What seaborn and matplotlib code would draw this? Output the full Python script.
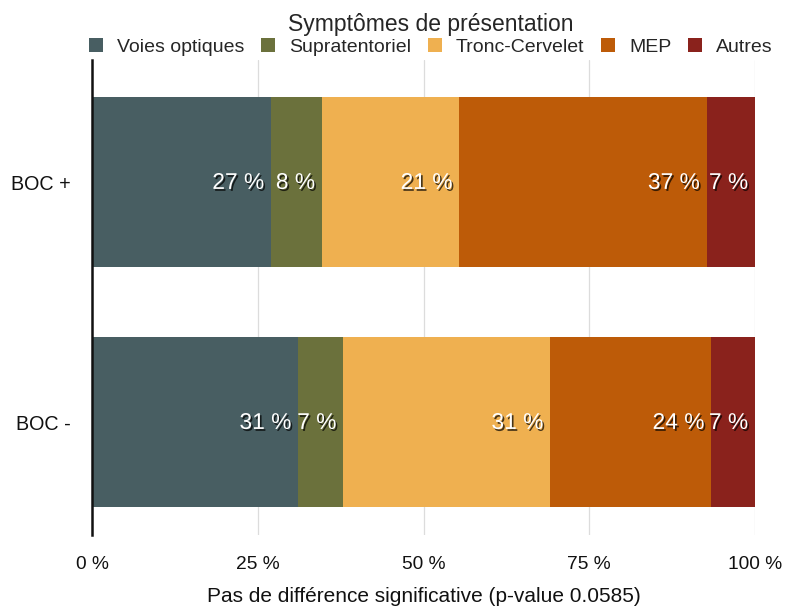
import matplotlib
matplotlib.use("Agg")
import matplotlib.pyplot as plt
import matplotlib.patheffects as pe
from matplotlib.patches import Patch
import numpy as np
import pandas as pd
import seaborn as sns

# Groups and presenting-symptom categories (percent of patients)
groups = ["BOC +", "BOC -"]
symptoms = ["Voies optiques", "Supratentoriel", "Tronc-Cervelet", "MEP", "Autres"]
boc_pos = [27.0, 7.7, 20.7, 37.3, 7.3]
boc_neg = [31.1, 6.8, 31.2, 24.3, 6.6]
colors = ["#485e62", "#6b713c", "#efb050", "#bd5b08", "#8a221c"]
x_ticks = [0, 25, 50, 75, 100]
x_ticklabels = ["0 %", "25 %", "50 %", "75 %", "100 %"]
legend_title = "Symptômes de présentation"
x_label = "Pas de différence significative (p-value 0.0585)"

sns.set_theme(style="white")
plt.rcParams["font.family"] = ["Liberation Sans", "DejaVu Sans"]

values = np.array([boc_pos, boc_neg])
cum = values.cumsum(axis=1)

rows = []
for gi, g in enumerate(groups):
    for si, s in enumerate(symptoms):
        rows.append({"groupe": g, "symptome": s, "valeur": values[gi, si],
                     "cumul": cum[gi, si]})
df = pd.DataFrame(rows)

fig = plt.figure(figsize=(7.85, 6.08), dpi=100)
ax = fig.add_axes([92 / 785, 1 - 535 / 608, 663 / 785, 475 / 608])

# Stacked bars: draw cumulative totals from the widest to the narrowest
for s, c in reversed(list(zip(symptoms, colors))):
    sub = df[df["symptome"] == s]
    sns.barplot(data=sub, x="cumul", y="groupe", order=groups, color=c,
                saturation=1, width=0.708, orient="h", ax=ax,
                linewidth=0, edgecolor="none")

# Percentage labels at the right end of each segment
shadow = [pe.SimplePatchShadow(offset=(1.2, -1.4), shadow_rgbFace="black", alpha=0.7),
          pe.Normal()]
for _, r in df.iterrows():
    yi = groups.index(r["groupe"])
    ax.annotate(f"{r['valeur']:.0f} %", xy=(r["cumul"], yi), xytext=(-5, 0),
                textcoords="offset points", ha="right", va="center",
                color="white", fontsize=16.4, path_effects=shadow)

ax.set_xlim(0, 100)
ax.set_ylim(1.469, -0.51)
ax.set_xticks(x_ticks)
ax.set_xticklabels(x_ticklabels, fontsize=13.8, color="#111111")
ax.tick_params(axis="x", length=0, pad=15)
ax.tick_params(axis="y", length=0, pad=15, labelsize=14.2, labelcolor="#111111")
ax.set_ylabel("")
ax.set_xlabel(x_label, fontsize=15, color="#111111", labelpad=10.5)

ax.set_axisbelow(True)
ax.grid(axis="x", color="#dcdcdc", linewidth=0.9)
ax.grid(axis="y", visible=False)
for side in ["top", "right", "bottom"]:
    ax.spines[side].set_visible(False)
ax.spines["left"].set_color("#111111")
ax.spines["left"].set_linewidth(1.8)
ax.spines["left"].set_zorder(5)

handles = [Patch(facecolor=c, edgecolor="none", label=s) for s, c in zip(symptoms, colors)]
leg = fig.legend(handles=handles, loc="upper center", ncol=5,
                 bbox_to_anchor=(431 / 785, 1 - 3 / 608), frameon=False,
                 title=legend_title, fontsize=14, title_fontsize=16.5,
                 handlelength=0.7, handleheight=0.7, handletextpad=0.75,
                 columnspacing=0.85, borderpad=0.0, labelspacing=0.2)
leg._legend_box.sep = 2

fig.savefig("out.png", dpi=100)
